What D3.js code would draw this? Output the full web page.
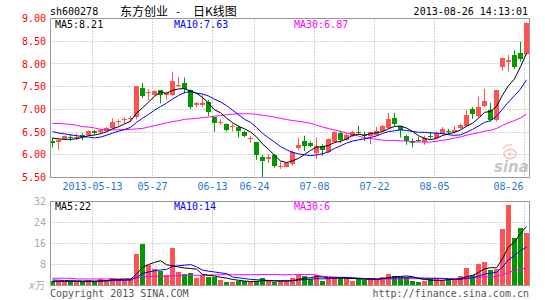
<!DOCTYPE html>
<html><head><meta charset="utf-8">
<script src="https://cdn.jsdelivr.net/npm/d3@7"></script>
<style>
body{margin:0;background:#fff}
svg{display:block}
text{font-family:"DejaVu Sans Mono",monospace;font-size:10px}
</style>
</head><body>
<svg id="c" width="545" height="300"></svg>
<script>
// ---- data ----
const dates = ["2013-05-02","2013-05-03","2013-05-06","2013-05-07","2013-05-08","2013-05-09","2013-05-10","2013-05-13","2013-05-14","2013-05-15",
"2013-05-16","2013-05-17","2013-05-20","2013-05-21","2013-05-22","2013-05-23","2013-05-24","2013-05-27","2013-05-28","2013-05-29",
"2013-05-30","2013-05-31","2013-06-03","2013-06-04","2013-06-05","2013-06-06","2013-06-07","2013-06-13","2013-06-14","2013-06-17",
"2013-06-18","2013-06-19","2013-06-20","2013-06-21","2013-06-24","2013-06-25","2013-06-26","2013-06-27","2013-06-28","2013-07-01",
"2013-07-02","2013-07-03","2013-07-04","2013-07-05","2013-07-08","2013-07-09","2013-07-10","2013-07-11","2013-07-12","2013-07-15",
"2013-07-16","2013-07-17","2013-07-18","2013-07-19","2013-07-22","2013-07-23","2013-07-24","2013-07-25","2013-07-26","2013-07-29",
"2013-07-30","2013-07-31","2013-08-01","2013-08-02","2013-08-05","2013-08-06","2013-08-07","2013-08-08","2013-08-09","2013-08-12",
"2013-08-13","2013-08-14","2013-08-15","2013-08-16","2013-08-19","2013-08-20","2013-08-21","2013-08-22","2013-08-23","2013-08-26"];

const open  = [6.30,6.29,6.35,6.40,6.38,6.43,6.44,6.53,6.50,6.53, 6.60,6.72,6.76,6.79,6.83,7.48,7.35,7.32,7.42,7.32,
               7.32,7.51,7.58,7.42,7.10,7.10,7.17,6.83,6.70,6.67, 6.61,6.61,6.51,6.35,6.28,5.95,5.91,6.00,5.73,5.73,
               5.79,6.15,6.30,6.26,6.04,6.19,6.06,6.29,6.47,6.33, 6.42,6.50,6.44,6.41,6.44,6.53,6.60,6.82,6.64,6.42,
               6.30,6.33,6.28,6.42,6.37,6.45,6.53,6.51,6.60,6.63, 7.01,6.85,7.08,6.98,6.76,7.94,8.05,8.19,8.23,8.21];
const high  = [6.38,6.35,6.42,6.45,6.47,6.48,6.54,6.55,6.57,6.61, 6.80,6.78,6.83,6.85,7.51,7.58,7.44,7.42,7.42,7.39,
               7.83,7.71,7.70,7.44,7.16,7.33,7.20,6.83,6.78,6.69, 6.69,6.64,6.53,6.41,6.28,6.00,6.01,6.01,5.85,5.84,
               6.10,6.38,6.42,6.30,6.38,6.23,6.36,6.53,6.53,6.47, 6.53,6.64,6.51,6.51,6.61,6.66,6.92,6.92,6.64,6.44,
               6.36,6.39,6.42,6.50,6.51,6.61,6.57,6.63,6.69,6.98, 7.05,7.28,7.45,7.14,7.43,8.14,8.20,8.30,8.49,8.91];
const low   = [6.16,6.11,6.33,6.30,6.33,6.32,6.42,6.45,6.45,6.51, 6.58,6.64,6.69,6.72,6.78,7.25,7.20,7.30,7.13,7.22,
               7.30,7.49,7.35,7.01,7.05,7.05,6.85,6.50,6.66,6.51, 6.51,6.38,6.39,6.26,5.89,5.50,5.82,5.72,5.69,5.72,
               5.76,6.11,6.08,6.16,5.91,5.98,6.04,6.25,6.26,6.31, 6.39,6.44,6.30,6.23,6.42,6.50,6.58,6.63,6.38,6.22,
               6.16,6.28,6.22,6.35,6.35,6.44,6.45,6.47,6.56,6.61, 6.79,6.82,7.05,6.73,6.73,7.85,7.83,7.89,8.05,8.20];
const close = [6.25,6.33,6.41,6.38,6.40,6.39,6.53,6.47,6.54,6.60, 6.72,6.75,6.79,6.82,7.51,7.30,7.38,7.41,7.32,7.35,
               7.63,7.54,7.44,7.05,7.13,7.14,6.94,6.69,6.73,6.54, 6.64,6.53,6.42,6.38,6.00,5.86,5.95,5.75,5.76,5.82,
               6.06,6.21,6.19,6.20,6.19,6.10,6.35,6.51,6.33,6.44, 6.51,6.47,6.41,6.50,6.53,6.64,6.78,6.67,6.54,6.31,
               6.27,6.31,6.38,6.39,6.47,6.57,6.50,6.54,6.66,6.88, 6.89,7.05,7.19,6.76,7.43,8.14,8.08,7.94,8.10,8.91];
// volume, in units of 10,000 lots (万)
const volume = [1.9,1.8,1.3,1.7,1.3,1.3,2.1,1.4,2.5,2.1, 2.9,2.5,2.1,2.2,12.0,15.9,7.7,6.2,5.6,4.1,
                14.2,5.1,4.4,4.6,3.0,3.9,3.4,3.2,2.2,1.4, 1.4,1.8,1.7,1.3,1.7,2.85,1.7,1.3,1.6,1.6,
                2.86,4.13,3.62,2.6,3.87,1.84,2.86,3.11,2.86,2.86, 1.84,2.35,2.1,2.86,2.35,3.24,4.5,3.75,3.37,3.37,
                1.84,1.33,1.59,2.35,2.6,2.1,2.35,2.2,3.62,6.67, 4.13,8.19,8.95,6.03,6.41,21.65,30.8,18.1,21.9,20.0];

// moving-average values for the first days (window starts before the chart)
const ma5Head  = [6.37,6.35,6.34,6.34];
const ma10Head = [6.51,6.48,6.46,6.44,6.42,6.40,6.39,6.37,6.39];
const ma30Head = [6.69,6.69,6.68,6.67,6.65,6.62,6.61,6.59,6.56,6.55,6.55,6.55,6.55,6.56,6.57,6.58,6.61,6.64,6.67,6.70,
                  6.73,6.75,6.78,6.79,6.80,6.82,6.83,6.85,6.86];
const vma5Head  = [1.6,1.6,1.55,1.55];
const vma10Head = [2.1,2.0,1.9,1.85,1.8,1.75,1.75,1.7,1.7];
const vma30Head = [2.75,2.75,2.75,2.75,2.5,2.5,2.5,2.5,2.5,2.5,2.5,2.5,2.5,2.55,2.9,3.3,3.4,3.45,3.5,3.5,
                   3.7,3.75,3.8,3.85,3.9,3.95,4.0,4.05,4.1];

const priceTicks = [9.00,8.50,8.00,7.50,7.00,6.50,6.00,5.50];
const volTicks = [32,24,16,8];
const tickDates  = ["2013-05-13","2013-05-27","2013-06-13","2013-06-24","2013-07-08","2013-07-22","2013-08-05","2013-08-26"];
const tickLabels = ["2013-05-13","05-27","06-13","06-24","07-08","07-22","08-05","08-26"];
const maLabels  = ["MA5:8.21","MA10:7.63","MA30:6.87"];
const vmaLabels = ["MA5:22","MA10:14","MA30:6"];
const maColors = ["#000000","#0000ff","#ff00ff"];

// ---- drawing ----
const svg = d3.select("#c");
svg.append("rect").attr("width",545).attr("height",300).attr("fill","#fff");
const RED = "#ff5252", GREEN = "#009900";
const idx = d3.range(dates.length);
const x = d3.scaleBand().domain(idx).range([49.5,529.5]).paddingInner(1/6).paddingOuter(1/12);
const cx = i => x(i) + x.bandwidth()/2;
const y = d3.scaleLinear().domain([5.5,9]).range([177.5,18.5]);
const yv = d3.scaleLinear().domain([0,32]).range([285.5,201.5]);
const L = 50.5, R = 529.5;

function ma(arr, n, head){
  return arr.map((v,i)=> i < n-1 ? head[i] : d3.mean(arr.slice(i-n+1,i+1)));
}
const up = i => close[i] >= open[i];
const col = i => up(i) ? RED : GREEN;

// grid
const gridX = tickDates.map(d => x(dates.indexOf(d)) + 0.5);
const grid = svg.append("g").attr("stroke","#aaa").attr("stroke-dasharray","1,2").attr("fill","none");
priceTicks.slice(1,-1).forEach(v=>{
  const yy = Math.floor(y(v))+0.5;
  grid.append("line").attr("x1",L).attr("x2",R).attr("y1",yy).attr("y2",yy);
});
volTicks.slice(1).forEach(v=>{
  const yy = Math.floor(yv(v))+0.5;
  grid.append("line").attr("x1",L).attr("x2",R).attr("y1",yy).attr("y2",yy);
});
gridX.forEach(gx=>{
  grid.append("line").attr("x1",gx).attr("x2",gx).attr("y1",18.5).attr("y2",177.5);
  grid.append("line").attr("x1",gx).attr("x2",gx).attr("y1",201.5).attr("y2",285.5);
});

// sina watermark
const wm = svg.append("g").attr("opacity",0.55);
wm.append("ellipse").attr("cx",510).attr("cy",154).attr("rx",6).attr("ry",4.5).attr("fill","none").attr("stroke","#f3a3a3").attr("stroke-width",2);
wm.append("circle").attr("cx",510).attr("cy",154).attr("r",1.8).attr("fill","#f3a3a3");
wm.append("path").attr("d","M503,149 Q506,144 512,145").attr("fill","none").attr("stroke","#f3a3a3").attr("stroke-width",1.5);
wm.append("text").attr("x",494).attr("y",172).attr("fill","#999")
  .style("font-family","DejaVu Sans").style("font-size","15px").style("font-weight","bold").style("font-style","italic").text("sina");

// candles
const cg = svg.append("g");
idx.forEach(i=>{
  const c = col(i);
  cg.append("line").attr("x1",cx(i)).attr("x2",cx(i)).attr("y1",y(high[i])).attr("y2",y(low[i])).attr("stroke",c).attr("stroke-width",1);
  const top = y(Math.max(open[i],close[i])), bot = y(Math.min(open[i],close[i]));
  cg.append("rect").attr("x",x(i)).attr("width",x.bandwidth())
    .attr("y",Math.round(top)).attr("height",Math.max(1,Math.round(bot)-Math.round(top)))
    .attr("fill",c);
});

// volume bars
const vg = svg.append("g");
idx.forEach(i=>{
  vg.append("rect").attr("x",x(i)).attr("width",x.bandwidth())
    .attr("y",Math.round(yv(volume[i]))).attr("height",285-Math.round(yv(volume[i])))
    .attr("fill",col(i));
});

// MA lines
const priceMAs = [ma(close,5,ma5Head), ma(close,10,ma10Head), ma(close,30,ma30Head)];
const volMAs = [ma(volume,5,vma5Head), ma(volume,10,vma10Head), ma(volume,30,vma30Head)];
const lp = d3.line().x((d,i)=>cx(i)).y(d=>y(d));
const lv = d3.line().x((d,i)=>cx(i)).y(d=>yv(d));
[2,1,0].forEach(k=>{
  svg.append("path").attr("d",lp(priceMAs[k])).attr("fill","none").attr("stroke",maColors[k]).attr("stroke-width",1);
  svg.append("path").attr("d",lv(volMAs[k])).attr("fill","none").attr("stroke",maColors[k]).attr("stroke-width",1);
});

// borders
svg.append("rect").attr("x",L).attr("y",18.5).attr("width",R-L).attr("height",159).attr("fill","none").attr("stroke","#999");
svg.append("rect").attr("x",L).attr("y",201.5).attr("width",R-L).attr("height",84).attr("fill","none").attr("stroke","#999");

// price axis labels
priceTicks.forEach(v=>{
  svg.append("text").attr("x",46).attr("y",y(v)+3.6).attr("text-anchor","end").attr("fill","#ff0000").text(v.toFixed(2));
});
// volume axis labels
volTicks.forEach(v=>{
  svg.append("text").attr("x",46).attr("y",yv(v)+3.6).attr("text-anchor","end").attr("fill","#aaa").text(v);
});
svg.append("text").attr("x",29).attr("y",289).attr("fill","#aaa").style("font-style","italic").text("x");
svg.append("text").attr("x",35).attr("y",289).attr("fill","#aaa").style("font-family","Noto Sans CJK SC").style("font-size","10px").text("万");

// date labels
tickDates.forEach((d,j)=>{
  const gx = gridX[j];
  const last = j === tickDates.length-1;
  svg.append("text").attr("x", last ? gx-1 : gx).attr("y",190)
    .attr("text-anchor", last ? "end" : "middle").attr("fill","#1f78d0").text(tickLabels[j]);
});

// MA legends
const legX = [55,174,294];
maLabels.forEach((t,k)=> svg.append("text").attr("x",legX[k]).attr("y",27.5).attr("fill",maColors[k]).text(t));
vmaLabels.forEach((t,k)=> svg.append("text").attr("x",legX[k]).attr("y",210).attr("fill",maColors[k]).text(t));

// title
svg.append("text").attr("x",50).attr("y",15).attr("fill","#000").text("sh600278");
const cjk = s => s.style("font-family","Noto Sans CJK SC").style("font-size","12px");
cjk(svg.append("text").attr("x",120).attr("y",15.5).attr("fill","#000").text("东方创业"));
svg.append("text").attr("x",175).attr("y",15).attr("fill","#000").text("-");
cjk(svg.append("text").attr("x",193).attr("y",15.5).attr("fill","#000").text("日K线图"));
svg.append("text").attr("x",528).attr("y",15).attr("text-anchor","end").attr("fill","#000").text("2013-08-26 14:13:01");

// footer
svg.append("text").attr("x",50).attr("y",297).attr("fill","#555").text("Copyright 2013 SINA.COM");
svg.append("text").attr("x",529).attr("y",297).attr("text-anchor","end").attr("fill","#555").text("http://finance.sina.com.cn");
</script>
</body></html>
